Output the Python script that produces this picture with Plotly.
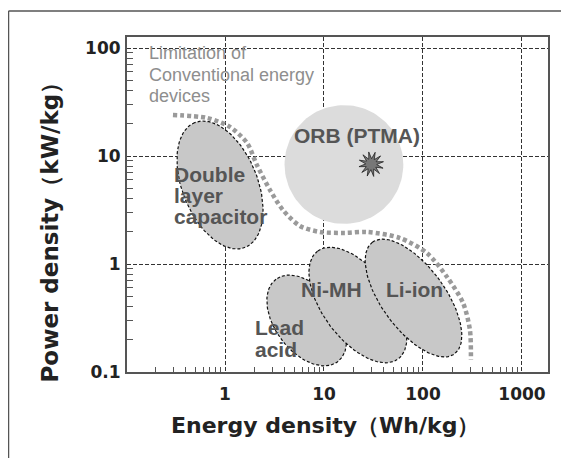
import numpy as np
import plotly.graph_objects as go

# ---------------- data ----------------
# Technology regions (ellipses in log-log space)
region_names = ["Lead acid", "Ni-MH", "Li-ion", "Double layer capacitor"]
region_energy = [6.7, 22.0, 80.2, 0.89]      # centre, Wh/kg
region_power = [0.30, 0.417, 0.484, 5.39]    # centre, kW/kg
region_major = [0.52, 0.68, 0.70, 0.68]      # semi-axis, decades
region_minor = [0.32, 0.35, 0.32, 0.38]      # semi-axis, decades
region_angle = [126.8, 126.8, 126.3, 112.0]  # tilt, degrees

# ORB (PTMA) region and measured point
orb_energy = 15.9
orb_power = 8.34
orb_radius = 0.60          # decades
ptma_energy = [30.0]
ptma_power = [8.4]

# Limitation of conventional energy devices (dotted boundary)
limit_energy = [0.298, 0.658, 1.12, 1.67, 2.10, 2.85, 3.85, 5.72, 9.12, 16.3,
                27.2, 58.6, 110, 175, 254, 298, 305]
limit_power = [24.0, 22.5, 18.6, 13.2, 8.26, 4.84, 3.16, 2.25, 1.98, 1.94,
               1.98, 1.74, 1.26, 0.758, 0.436, 0.245, 0.129]

x_ticks = [1, 10, 100, 1000]
x_ticktext = ["1", "10", "100", "1000"]
y_ticks = [0.1, 1, 10, 100]
y_ticktext = ["0.1", "1", "10", "100"]

# ---------------- layout geometry ----------------
OFF = 8  # page body margin
W, H = 569 - OFF, 458 - OFF
ML, MR, MT, MB = 127 - OFF, 21, 37 - OFF, 86
XR = [-0.99, 3.263]
YR = [-1.0, 2.102]
PW = W - ML - MR
PH = H - MT - MB
px_per_dec_x = PW / (XR[1] - XR[0])
px_per_dec_y = PH / (YR[1] - YR[0])
yfac = px_per_dec_x / px_per_dec_y

t = np.linspace(0, 2 * np.pi, 121)

fig = go.Figure()

# ORB circle
lx = np.log10(orb_energy) + orb_radius * np.cos(t)
ly = np.log10(orb_power) + orb_radius * np.sin(t) * yfac
fig.add_trace(go.Scatter(x=10 ** lx, y=10 ** ly, mode="lines", fill="toself",
                         fillcolor="#dcdcdc", line=dict(width=0),
                         hoverinfo="skip", showlegend=False))

# Technology ellipses
for n, e, p, a, b, ang in zip(region_names, region_energy, region_power,
                              region_major, region_minor, region_angle):
    phi = np.deg2rad(ang)
    dx = a * np.cos(t) * np.cos(phi) - b * np.sin(t) * np.sin(phi)
    dy = a * np.cos(t) * np.sin(phi) + b * np.sin(t) * np.cos(phi)
    lx = np.log10(e) + dx
    ly = np.log10(p) + dy * yfac
    fig.add_trace(go.Scatter(x=10 ** lx, y=10 ** ly, mode="lines", fill="toself",
                             fillcolor="#c8c8c8",
                             line=dict(color="#111111", width=1.2, dash="3px,2px"),
                             name=n, hoverinfo="skip", showlegend=False))

# PTMA star burst
ns = 12
ts = np.linspace(0, 2 * np.pi, 2 * ns + 1)
rr = np.where(np.arange(2 * ns + 1) % 2 == 0, 12.5, 5.5) / px_per_dec_x
sx = np.log10(ptma_energy[0]) + rr * np.cos(ts + 0.2)
sy = np.log10(ptma_power[0]) + rr * np.sin(ts + 0.2) * yfac
fig.add_trace(go.Scatter(x=10 ** sx, y=10 ** sy, mode="lines", fill="toself",
                         fillcolor="#777777", line=dict(color="#222222", width=0.8),
                         hoverinfo="skip", showlegend=False))

# Limitation dotted line
fig.add_trace(go.Scatter(x=limit_energy, y=limit_power, mode="lines",
                         line=dict(color="#9a9a9a", width=4.5, dash="4px,3px",
                                   shape="spline", smoothing=0.8),
                         hoverinfo="skip", showlegend=False))

# ---------------- annotations ----------------
def ann(text, px, py, size, color, family="Liberation Sans, Arial", bold=True):
    fig.add_annotation(
        x=(px - 225) / 99.0, y=(264 - py) / 108.0, xref="x", yref="y",
        text=("<b>%s</b>" % text) if bold else text,
        showarrow=False, xanchor="left", yanchor="middle",
        font=dict(size=size, color=color, family=family))

lim_col = "#8e8e8e"
ann("Limitation of", 147, 52.7, 18, lim_col, bold=False)
ann("Conventional energy", 147, 74.7, 18, lim_col, bold=False)
ann("devices", 147, 95.7, 18, lim_col, bold=False)

lab_col = "#555555"
ann("ORB (PTMA)", 292, 135.6, 21, lab_col)
ann("Double", 172, 174.6, 21, lab_col)
ann("layer", 172, 195.6, 21, lab_col)
ann("capacitor", 172, 216.6, 21, lab_col)
ann("Ni-MH", 299, 289.6, 21, lab_col)
ann("Li-ion", 384, 289.6, 21, lab_col)
ann("Lead", 253, 327.0, 21, lab_col)
ann("acid", 253, 349.0, 21, lab_col)

def paper_x(px):
    return (px - OFF - ML) / PW

def paper_y(py):
    return (MT + PH - (py - OFF)) / PH

# axis titles
fig.add_annotation(x=paper_x(325), y=paper_y(425.6),
                   xref="paper", yref="paper", showarrow=False,
                   text="<b>Energy density（Wh/kg）</b>",
                   font=dict(size=22, color="#222222", family="DejaVu Sans"),
                   xanchor="center", yanchor="middle")
fig.add_annotation(x=paper_x(49), y=paper_y(226.5),
                   xref="paper", yref="paper", showarrow=False, textangle=-90,
                   text="<b>Power density（kW/kg）</b>",
                   font=dict(size=23, color="#222222", family="DejaVu Sans"),
                   xanchor="center", yanchor="middle")

# outer frame (top and left)
fx0, fx1 = paper_x(8.5), paper_x(575)
fy0, fy1 = paper_y(470), paper_y(11)
fig.add_shape(type="line", xref="paper", yref="paper", x0=fx0, x1=fx0, y0=fy0, y1=fy1,
              line=dict(color="#555555", width=1.5))
fig.add_shape(type="line", xref="paper", yref="paper", x0=fx0, x1=fx1, y0=fy1, y1=fy1,
              line=dict(color="#555555", width=1.5))

minor_x = [m * 10.0 ** d for d in range(-1, 4) for m in range(2, 10)]
minor_y = [m * 10.0 ** d for d in range(-1, 3) for m in range(2, 10)]

axis_common = dict(type="log", showline=True, linecolor="#555555", linewidth=2,
                   mirror=True, showgrid=True, gridcolor="#333333", gridwidth=1,
                   griddash="4px,2px", zeroline=False, ticks="",
                   tickfont=dict(family="DejaVu Sans", size=17, color="#222222"))

fig.update_layout(
    width=W, height=H,
    margin=dict(l=ML, r=MR, t=MT, b=MB),
    paper_bgcolor="white", plot_bgcolor="white",
    showlegend=False,
    xaxis=dict(range=XR, tickmode="array", tickvals=x_ticks,
               ticktext=["<b>%s</b>" % s for s in x_ticktext],
               ticklabelstandoff=6,
               minor=dict(tickmode="array", tickvals=minor_x, ticks="inside",
                          ticklen=5, tickcolor="#555555", tickwidth=1, showgrid=False),
               **axis_common),
    yaxis=dict(range=YR, tickmode="array", tickvals=y_ticks,
               ticktext=["<b>%s</b>" % s for s in y_ticktext],
               ticklabelstandoff=1,
               minor=dict(tickmode="array", tickvals=minor_y, ticks="inside",
                          ticklen=6, tickcolor="#555555", tickwidth=1, showgrid=False),
               **axis_common),
)

fig.write_html("out.html")
